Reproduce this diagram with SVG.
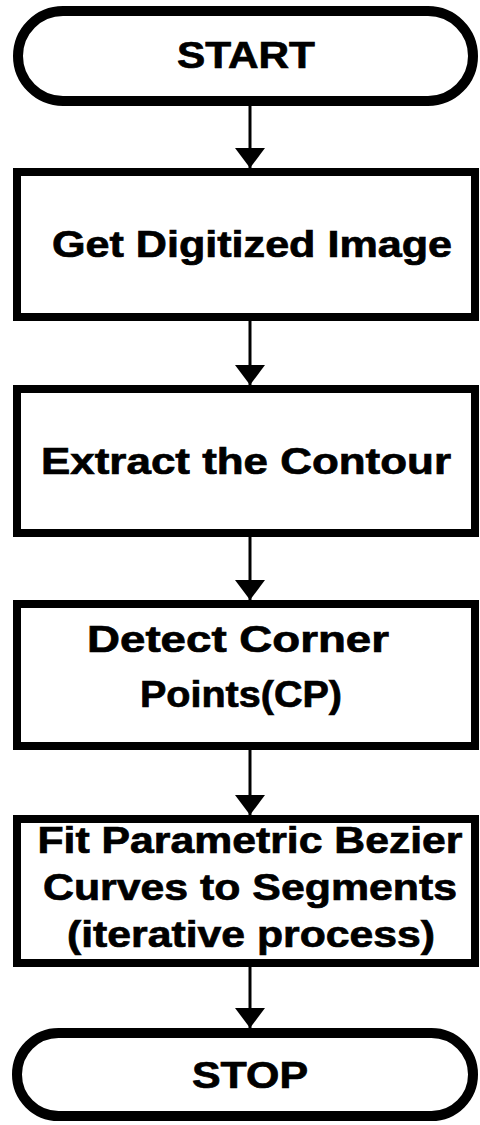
<svg xmlns="http://www.w3.org/2000/svg" width="480" height="1125" viewBox="0 0 480 1125">
<style>
.shape{fill:#fff;stroke:#000;stroke-width:8}
.term{fill:#fff;stroke:#000;stroke-width:10}
.lbl{font-family:"Liberation Sans",Arial,sans-serif;font-weight:bold;font-size:36px;fill:#000;stroke:#000;stroke-width:0.7;text-anchor:middle}
.conn{stroke:#000;stroke-width:3;fill:none;marker-end:url(#arr)}
</style>
<defs>
<marker id="arr" markerUnits="userSpaceOnUse" markerWidth="20" markerHeight="30" refX="20" refY="15" orient="auto" viewBox="0 0 20 30">
<path d="M0,0 L20,15 L0,30 Z" fill="#000"/>
</marker>
</defs>
<rect width="480" height="1125" fill="#fff"/>
<g id="connectors">
<line class="conn" x1="250" y1="106" x2="250" y2="168"/>
<line class="conn" x1="250" y1="321" x2="250" y2="385"/>
<line class="conn" x1="250" y1="537" x2="250" y2="600"/>
<line class="conn" x1="250" y1="750" x2="250" y2="815"/>
<line class="conn" x1="250" y1="967" x2="250" y2="1028"/>
</g>
<g id="start">
<rect class="term" x="18" y="11" width="455" height="90" rx="45" ry="45"/>
<text class="lbl" x="246" y="68" font-size="35" textLength="138" lengthAdjust="spacingAndGlyphs">START</text>
</g>
<g id="get-image">
<rect class="shape" x="17" y="172" width="458" height="145"/>
<text class="lbl" x="252" y="257" textLength="400" lengthAdjust="spacingAndGlyphs">Get Digitized Image</text>
</g>
<g id="extract-contour">
<rect class="shape" x="17" y="389" width="458" height="144"/>
<text class="lbl" x="246" y="474" textLength="410" lengthAdjust="spacingAndGlyphs">Extract the Contour</text>
</g>
<g id="detect-corners">
<rect class="shape" x="17" y="604" width="458" height="142"/>
<text class="lbl" x="238" y="652" textLength="302" lengthAdjust="spacingAndGlyphs">Detect Corner</text>
<text class="lbl" x="241" y="707" textLength="202" lengthAdjust="spacingAndGlyphs">Points(CP)</text>
</g>
<g id="fit-bezier">
<rect class="shape" x="17" y="819" width="458" height="144"/>
<text class="lbl" x="250" y="853" textLength="425" lengthAdjust="spacingAndGlyphs">Fit Parametric Bezier</text>
<text class="lbl" x="250" y="900" textLength="414" lengthAdjust="spacingAndGlyphs">Curves to Segments</text>
<text class="lbl" x="251" y="947" textLength="368" lengthAdjust="spacingAndGlyphs">(iterative process)</text>
</g>
<g id="stop">
<rect class="term" x="17" y="1033" width="456" height="83" rx="41.5" ry="41.5"/>
<text class="lbl" x="250" y="1088" font-size="35" textLength="116" lengthAdjust="spacingAndGlyphs">STOP</text>
</g>
</svg>
